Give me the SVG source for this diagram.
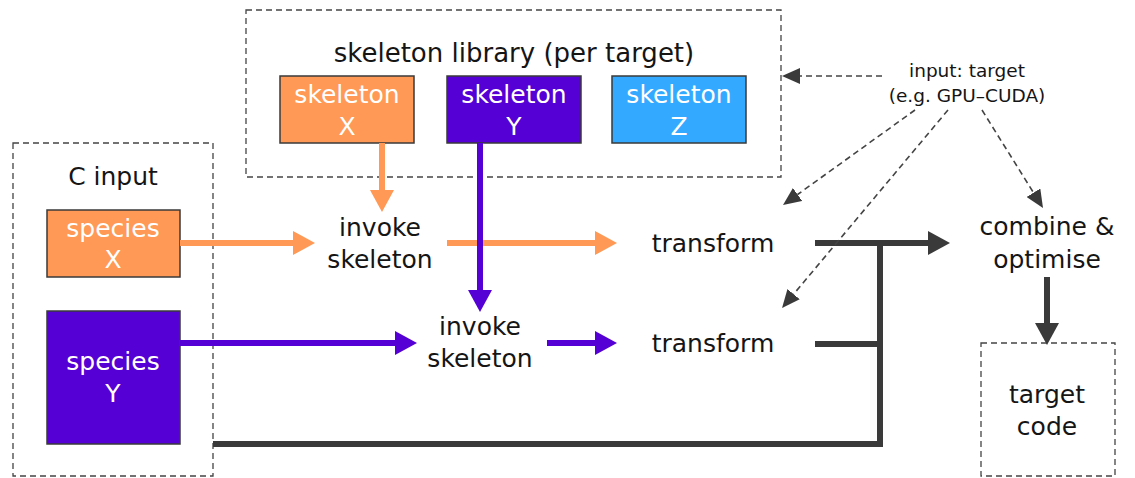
<svg xmlns="http://www.w3.org/2000/svg" width="1135" height="478" viewBox="0 0 1135 478">
<style>
text{font-family:"DejaVu Sans","Verdana",sans-serif;text-anchor:middle;fill:#151515}
.t{font-size:25px}
.h{font-size:26px}
.w{font-size:25px;fill:#ffffff}
.s{font-size:18.5px}
.dbox{fill:none;stroke:#444;stroke-width:1.3;stroke-dasharray:6 4}
.box{stroke:#3a3a3a;stroke-width:1.5}
.o{fill:#ff9955}
.p{fill:#5500d4}
.b{fill:#33aaff}
.lo{stroke:#ff9955;stroke-width:6;fill:none}
.lp{stroke:#5500d4;stroke-width:6;fill:none}
.ld{stroke:#3a3a3a;stroke-width:6;fill:none}
.dash{stroke:#444;stroke-width:1.6;stroke-dasharray:6 4;fill:none}
</style>
<defs>
<marker id="aO" viewBox="0 -12 22 24" refX="0" refY="0" markerWidth="22" markerHeight="24" markerUnits="userSpaceOnUse" orient="auto"><path d="M0,-12 L22,0 L0,12 z" fill="#ff9955"/></marker>
<marker id="aP" viewBox="0 -12 22 24" refX="0" refY="0" markerWidth="22" markerHeight="24" markerUnits="userSpaceOnUse" orient="auto"><path d="M0,-12 L22,0 L0,12 z" fill="#5500d4"/></marker>
<marker id="aD" viewBox="0 -12 22 24" refX="0" refY="0" markerWidth="22" markerHeight="24" markerUnits="userSpaceOnUse" orient="auto"><path d="M0,-12 L22,0 L0,12 z" fill="#3a3a3a"/></marker>
<marker id="aS" viewBox="0 -8 18 16" refX="0" refY="0" markerWidth="18" markerHeight="16" markerUnits="userSpaceOnUse" orient="auto"><path d="M0,-8 L18,0 L0,8 z" fill="#3a3a3a"/></marker>
</defs>

<g id="library">
<rect class="dbox" x="246" y="10" width="535" height="167"/>
<text class="h" x="514" y="62">skeleton library (per target)</text>
</g>
<g id="skeletonX">
<rect class="box o" x="280" y="76" width="134" height="67"/>
<text class="w" x="347" y="103">skeleton</text>
<text class="w" x="347" y="135">X</text>
</g>
<g id="skeletonY">
<rect class="box p" x="447" y="76" width="134" height="67"/>
<text class="w" x="514" y="103">skeleton</text>
<text class="w" x="514" y="135">Y</text>
</g>
<g id="skeletonZ">
<rect class="box b" x="612" y="76" width="134" height="67"/>
<text class="w" x="679" y="103">skeleton</text>
<text class="w" x="679" y="135">Z</text>
</g>

<g id="cinput">
<rect class="dbox" x="13" y="143" width="200" height="333"/>
<text class="t" x="113" y="185">C input</text>
</g>
<g id="speciesX">
<rect class="box o" x="47" y="210" width="133" height="67"/>
<text class="w" x="113" y="237">species</text>
<text class="w" x="113" y="268">X</text>
</g>
<g id="speciesY">
<rect class="box p" x="47" y="311" width="133" height="133"/>
<text class="w" x="113" y="370">species</text>
<text class="w" x="113" y="402">Y</text>
</g>

<g id="invoke1">
<text class="t" x="380" y="236">invoke</text>
<text class="t" x="380" y="268">skeleton</text>
</g>
<g id="invoke2">
<text class="t" x="480" y="335">invoke</text>
<text class="t" x="480" y="367">skeleton</text>
</g>
<g id="transform1"><text class="t" x="713" y="252">transform</text></g>
<g id="transform2"><text class="t" x="713" y="352">transform</text></g>
<g id="combine">
<text class="t" x="1047" y="235">combine &amp;</text>
<text class="t" x="1047" y="268">optimise</text>
</g>
<g id="target">
<rect class="dbox" x="981" y="343" width="134" height="133"/>
<text class="t" x="1047" y="403">target</text>
<text class="t" x="1047" y="435">code</text>
</g>
<g id="inputTarget">
<text class="s" x="967" y="77">input: target</text>
<text class="s" x="967" y="102">(e.g. GPU–CUDA)</text>
</g>

<g id="connectors">
<line class="lo" x1="382" y1="143" x2="382" y2="190" marker-end="url(#aO)"/>
<line class="lo" x1="180" y1="243" x2="293" y2="243" marker-end="url(#aO)"/>
<line class="lo" x1="447" y1="243" x2="595" y2="243" marker-end="url(#aO)"/>
<line class="lp" x1="480" y1="143" x2="480" y2="290" marker-end="url(#aP)"/>
<line class="lp" x1="180" y1="343" x2="395" y2="343" marker-end="url(#aP)"/>
<line class="lp" x1="547" y1="343" x2="595" y2="343" marker-end="url(#aP)"/>
<line class="ld" x1="815" y1="243" x2="928" y2="243" marker-end="url(#aD)"/>
<line class="ld" x1="815" y1="344" x2="880" y2="344"/>
<polyline class="ld" points="213,444 880,444 880,240"/>
<line class="ld" x1="1047" y1="277" x2="1047" y2="323" marker-end="url(#aD)"/>
<line class="dash" x1="882" y1="76" x2="800" y2="76" marker-end="url(#aS)"/>
<line class="dash" x1="915" y1="110" x2="797.6" y2="194.5" marker-end="url(#aS)"/>
<line class="dash" x1="948" y1="110" x2="793.6" y2="294.2" marker-end="url(#aS)"/>
<line class="dash" x1="982" y1="110" x2="1033.5" y2="192.7" marker-end="url(#aS)"/>
</g>
</svg>
